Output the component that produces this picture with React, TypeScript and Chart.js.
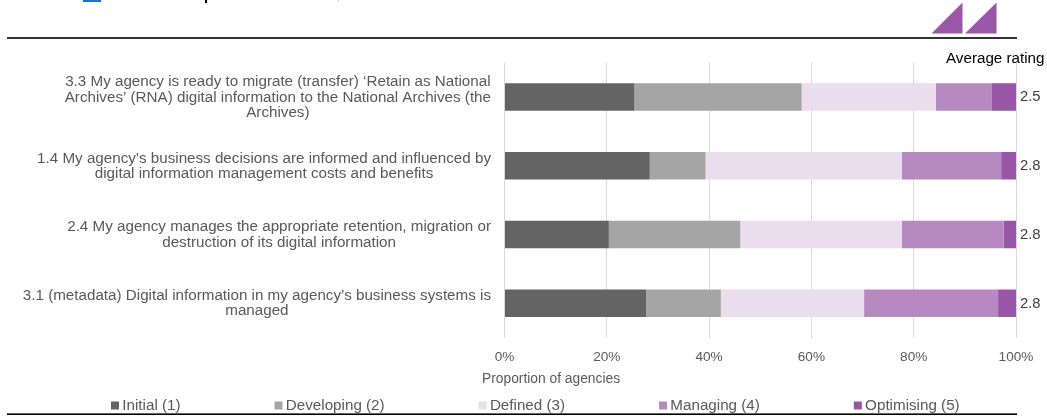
import React, { useEffect, useRef } from "react";
import { Chart, registerables } from "chart.js";

Chart.register(...registerables);

// ---------- data ----------
const categories: string[][] = [
  [
    "3.3 My agency is ready to migrate (transfer) ‘Retain as National",
    "Archives’ (RNA) digital information to the National Archives (the",
    "Archives)",
  ],
  [
    "1.4 My agency’s business decisions are informed and influenced by",
    "digital information management costs and benefits",
  ],
  [
    "2.4 My agency manages the appropriate retention, migration or",
    "destruction of its digital information",
  ],
  [
    "3.1 (metadata) Digital information in my agency’s business systems is",
    "managed",
  ],
];

const seriesNames = ["Initial (1)", "Developing (2)", "Defined (3)", "Managing (4)", "Optimising (5)"];
const initial = [25.4, 28.4, 20.4, 27.7];
const developing = [32.7, 10.9, 25.7, 14.6];
const defined = [26.2, 38.4, 31.6, 28.0];
const managing = [11.0, 19.4, 19.9, 26.2];
const optimising = [4.7, 2.9, 2.4, 3.5];
const averageRatings = ["2.5", "2.8", "2.8", "2.8"];
const xTickStep = 20;
const xMax = 100;
const xAxisTitle = "Proportion of agencies";
const ratingHeader = "Average rating";

const seriesColors = ["#646464", "#A5A5A5", "#E9DDEE", "#B689C0", "#9756A6"];

const FONT_FAMILY = '"Liberation Sans", Arial, sans-serif';
const LABEL_FONT = `15.2px ${FONT_FAMILY}`;
const RATING_FONT = `14.8px ${FONT_FAMILY}`;
const TITLE_FONT = `13.8px ${FONT_FAMILY}`;
const TEXT = "#595959";

const decorPlugin = {
  id: "decor",
  afterDraw(chart: any) {
    const ctx: CanvasRenderingContext2D = chart.ctx;
    const xs = chart.scales.x;
    const ys = chart.scales.y;
    ctx.save();

    // header remnants (cut-off title above)
    ctx.fillStyle = "#1478D2";
    ctx.fillRect(83, 0, 18, 2);
    ctx.fillStyle = "#000";
    ctx.fillRect(205, 0, 2, 3);
    ctx.fillStyle = "#BBBBBB";
    ctx.fillRect(338, 0, 1, 1);

    // logo triangles
    ctx.fillStyle = "#9A57A7";
    const tri = (x0: number, x1: number) => {
      ctx.beginPath();
      ctx.moveTo(x0, 33.5);
      ctx.lineTo(x1, 33.5);
      ctx.lineTo(x1, 2.5);
      ctx.closePath();
      ctx.fill();
    };
    tri(931.5, 962.5);
    tri(965, 996.5);

    // rules
    ctx.fillStyle = "#000";
    ctx.fillRect(7, 37.2, 1010, 1.6);
    ctx.fillRect(7, 413.4, 1010, 1.6);

    // category labels (block right-aligned, lines centered)
    ctx.font = LABEL_FONT;
    ctx.fillStyle = TEXT;
    ctx.textBaseline = "middle";
    ctx.textAlign = "center";
    const labelRight = xs.left - 13.5;
    const lh = 15.3;
    categories.forEach((lines, i) => {
      const cy = ys.getPixelForValue(i) + 0.5;
      const w = Math.max(...lines.map((l) => ctx.measureText(l).width));
      const cx = labelRight - w / 2;
      lines.forEach((l, j) => {
        ctx.fillText(l, cx, cy + (j - (lines.length - 1) / 2) * lh);
      });
    });

    // rating header
    ctx.textAlign = "left";
    ctx.fillStyle = "#000";
    ctx.fillText(ratingHeader, 946, 58.5);

    // legend
    const box = 8;
    const gapText = 3.3;
    const gapItem = 94;
    let lx = 111;
    const ly = 405.5;
    seriesNames.forEach((n, i) => {
      ctx.fillStyle = seriesColors[i];
      ctx.fillRect(lx, ly - box / 2, box, box);
      ctx.fillStyle = TEXT;
      ctx.fillText(n, lx + box + gapText, ly);
      lx += box + gapText + ctx.measureText(n).width + gapItem;
    });

    // average ratings
    ctx.font = RATING_FONT;
    ctx.fillStyle = "#404040";
    averageRatings.forEach((r, i) => {
      ctx.fillText(r, xs.right + 4, ys.getPixelForValue(i) + 0.5);
    });

    // axis title
    ctx.font = TITLE_FONT;
    ctx.fillStyle = TEXT;
    ctx.fillText(xAxisTitle, 482, 379.5);

    ctx.restore();
  },
};

export default function App() {
  const ref = useRef<HTMLCanvasElement | null>(null);

  useEffect(() => {
    if (!ref.current) return;
    const series = [initial, developing, defined, managing, optimising];
    const chart = new Chart(ref.current, {
      type: "bar",
      data: {
        labels: categories,
        datasets: series.map((d, i) => ({
          label: seriesNames[i],
          data: d,
          backgroundColor: seriesColors[i],
          borderWidth: 0,
          barPercentage: 0.4,
          categoryPercentage: 1,
        })),
      },
      options: {
        indexAxis: "y",
        responsive: false,
        animation: false,
        devicePixelRatio: 1,
        layout: { padding: { top: 62.5, right: 31, bottom: 0, left: 0 } },
        plugins: {
          legend: { display: false },
          tooltip: { enabled: false },
          title: { display: false },
        },
        scales: {
          x: {
            stacked: true,
            min: 0,
            max: xMax,
            afterFit: (axis: any) => {
              axis.height = 78.5;
            },
            ticks: {
              stepSize: xTickStep,
              padding: 12,
              color: TEXT,
              font: { family: FONT_FAMILY, size: 13.6 },
              callback: (v: any) => `${v}%`,
            },
            grid: { color: "#D9D9D9", drawTicks: false, lineWidth: 1 },
            border: { display: false },
          },
          y: {
            stacked: true,
            afterFit: (axis: any) => {
              axis.width = 504.5;
            },
            ticks: { display: false },
            grid: { display: false },
            border: { display: false },
          },
        },
      },
      plugins: [decorPlugin],
    } as any);
    return () => chart.destroy();
  }, []);

  return (
    <div style={{ position: "fixed", left: 0, top: 0, width: 1047, height: 416, background: "#fff" }}>
      <canvas ref={ref} width={1047} height={416} style={{ display: "block" }} />
    </div>
  );
}
